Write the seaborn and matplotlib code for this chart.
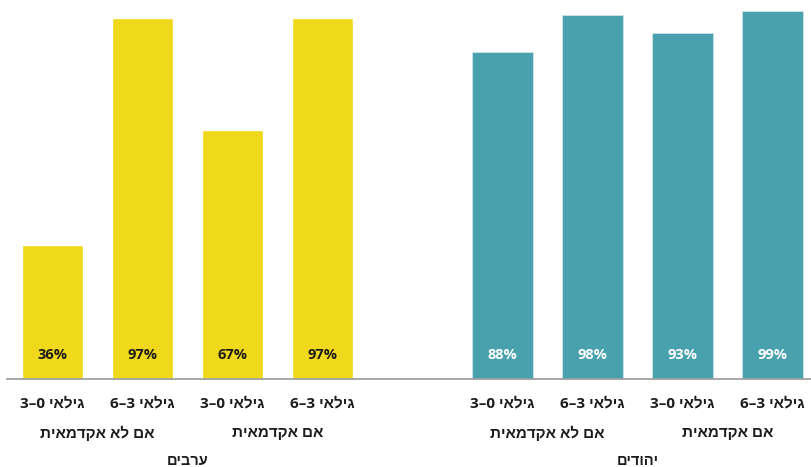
import matplotlib
matplotlib.use("Agg")
import matplotlib.pyplot as plt
import matplotlib.transforms as mtransforms
import pandas as pd
import seaborn as sns

# --- data -------------------------------------------------------------
groups = ["ערבים", "יהודים"]
mothers = ["אם לא אקדמאית", "אם אקדמאית"]
ages = ["גילאי 0–3", "גילאי 3–6"]
arab_values = [36, 97, 67, 97]
jewish_values = [88, 98, 93, 99]

group_colors = {"ערבים": "#F0D81A", "יהודים": "#4AA1AE"}
value_colors = {"ערבים": "#1c1c1c", "יהודים": "#ffffff"}


def rtl(s):
    """matplotlib lays glyphs out left to right; put Hebrew in visual order."""
    return s[::-1]


rows = []
for g, vals in zip(groups, [arab_values, jewish_values]):
    i = 0
    for m in mothers:
        for a in ages:
            rows.append({"bar": f"{g}|{m}|{a}", "group": g, "mother": m,
                         "age": a, "value": vals[i]})
            i += 1
df = pd.DataFrame(rows)

# one empty slot between the two groups
order = list(df.loc[df.group == groups[0], "bar"]) + ["gap"] + \
    list(df.loc[df.group == groups[1], "bar"])

# --- figure -------------------------------------------------------------
sns.set_theme(style="white")
plt.rcParams["font.family"] = ["Open Sans", "Liberation Sans", "DejaVu Sans"]

W, H = 812, 467
fig = plt.figure(figsize=(W / 100, H / 100), dpi=100)
base_px = 379
ax = fig.add_axes([7 / W, (H - base_px) / H, (W - 7) / W, base_px / H])

sns.barplot(data=df, x="bar", y="value", hue="group", order=order,
            palette=group_colors, dodge=False, width=0.67, legend=False,
            saturation=1, ax=ax)

# faint light rim on the teal bars
for patch in ax.patches:
    fc = patch.get_facecolor()
    if fc[2] > 0.5:
        patch.set_edgecolor("#cfe6ea")
        patch.set_linewidth(0.6)

ax.set_ylim(0, 101.9)
ax.set_xlim(-0.506, 8.44)
ax.set_xlabel("")
ax.set_ylabel("")
ax.set_xticks([])
ax.set_yticks([])
for side in ["top", "left", "right"]:
    ax.spines[side].set_visible(False)
ax.spines["bottom"].set_color("#a0a0a0")
ax.spines["bottom"].set_linewidth(1.3)

# value labels inside the bars, near the baseline
val_tr = mtransforms.blended_transform_factory(ax.transData, ax.transAxes)
for _, r in df.iterrows():
    x = order.index(r["bar"])
    ax.text(x, 24 / base_px, f"{r['value']}%", transform=val_tr,
            ha="center", va="center", fontsize=10.5, fontweight="bold",
            color=value_colors[r["group"]], family=["Open Sans", "DejaVu Sans"])

# three rows of category labels under the axis
lab_tr = mtransforms.blended_transform_factory(ax.transData, fig.transFigure)
y1, y2, y3 = 1 - 403 / H, 1 - 433 / H, 1 - 461 / H
txt = dict(ha="center", va="center", fontweight="bold", color="#1c1c1c",
           transform=lab_tr)
for g in groups:
    sub = df[df.group == g]
    xs_g = [order.index(b) for b in sub["bar"]]
    for _, r in sub.iterrows():
        ax.text(order.index(r["bar"]), y1, rtl(r["age"]), fontsize=11, **txt)
    for m in mothers:
        xs = [order.index(b) for b in sub.loc[sub.mother == m, "bar"]]
        ax.text(sum(xs) / len(xs), y2, rtl(m), fontsize=11, **txt)
    ax.text(sum(xs_g) / len(xs_g), y3, rtl(g), fontsize=10.5, **txt)

fig.savefig("out.png", dpi=100)
